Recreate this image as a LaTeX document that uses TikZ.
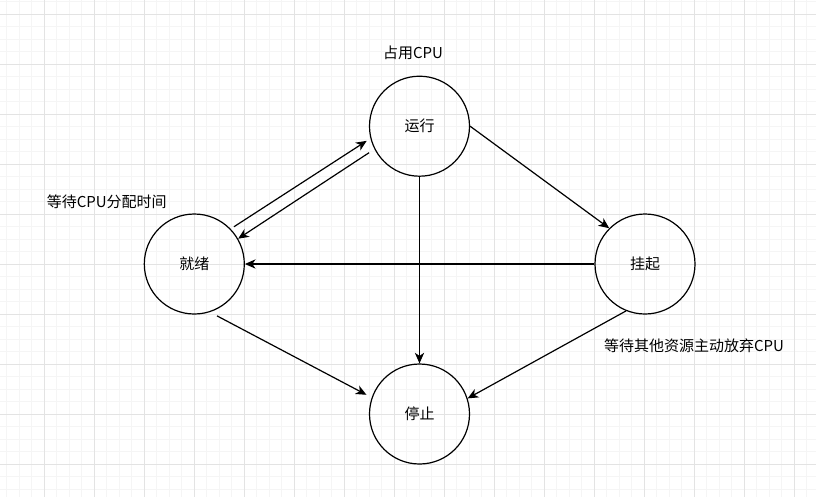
\documentclass[tikz,border=0pt]{standalone}
\usepackage{fontspec}
\setmainfont{Noto Sans CJK SC}
\usetikzlibrary{arrows.meta}

\begin{document}
\begin{tikzpicture}[x = 0.75pt, y = -0.75pt, font = \fontsize{11.25pt}{13pt}\selectfont,
    state/.style = {shape = circle, draw, line width = 0.9pt, minimum size = 75pt, inner sep = 0pt},
    flow/.style = {line width = 0.9pt, -{Stealth[length = 8pt, width = 7pt, inset = 2.4pt]}},
    minorline/.style = {black!4, line width = 0.75pt},
    majorline/.style = {black!11, line width = 0.75pt}]
    \useasboundingbox (0,0) rectangle (816,497);
    % grid
    \foreach \i in {0,...,64} \draw[minorline] (6.8+12.5*\i,0) -- (6.8+12.5*\i,497);
    \foreach \i in {0,...,39} \draw[minorline] (0,1.8+12.5*\i) -- (816,1.8+12.5*\i);
    \foreach \i in {0,...,15} \draw[majorline] (44.3+50*\i,0) -- (44.3+50*\i,497);
    \foreach \i in {0,...,9} \draw[majorline] (0,14.3+50*\i) -- (816,14.3+50*\i);
    % states
    \node [state] (run) at (419.5,126.2) {运行};
    \node [state] (ready) at (194.3,264) {就绪};
    \node [state] (hang) at (645,264) {挂起};
    \node [state] (stop) at (419.5,414) {停止};
    % notes
    \node (runnote) at (413,52.5) {占用CPU};
    \node (readynote) at (106.7,202) {等待CPU分配时间};
    \node (hangnote) at (694,345.5) {等待其他资源主动放弃CPU};
    % transitions
    \draw [flow, shorten <= 2.9pt, shorten >= 3.3pt] (ready.44) -- (run.194);
    \draw [flow, shorten <= 4.8pt] (run.207) -- (ready.30);
    \draw [flow] (run.0) -- (hang.135);
    \draw [flow] (hang.180) -- (ready.0);
    \draw [flow] (run.270) -- (stop.90);
    \draw [flow, shorten <= 6pt, shorten >= 4.4pt] (ready.-72) -- (stop.161);
    \draw [flow] (hang.248) -- (stop.18);
\end{tikzpicture}
\end{document}
